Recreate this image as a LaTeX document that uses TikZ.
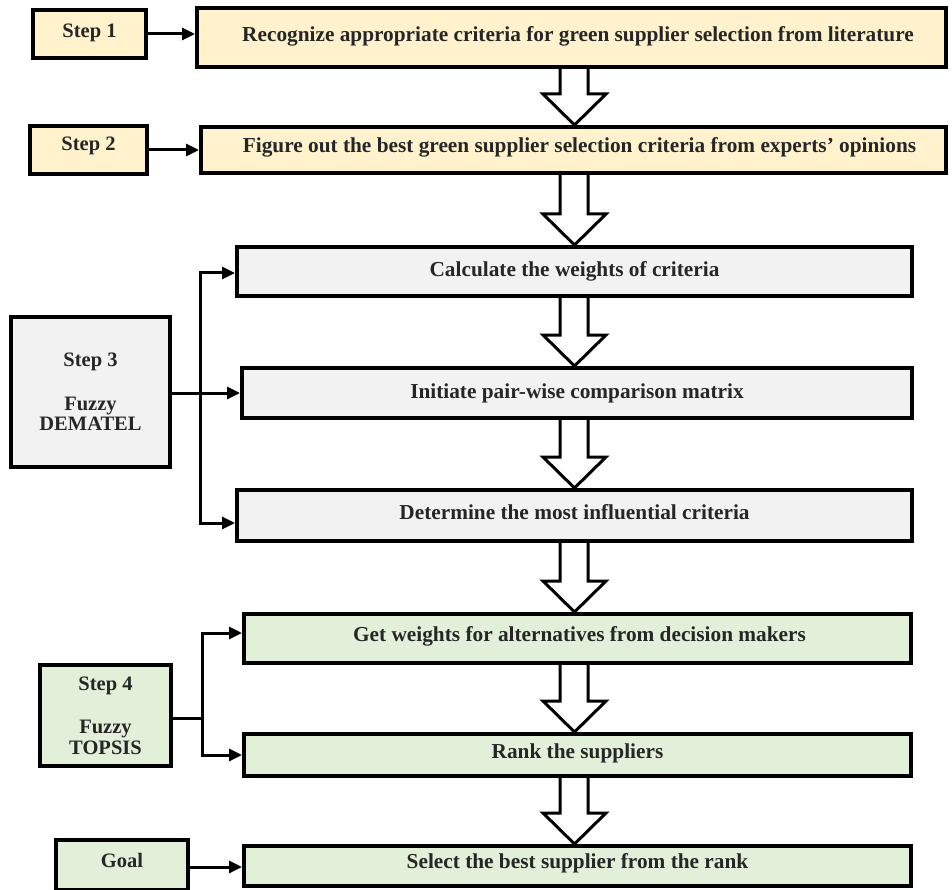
\documentclass[tikz,border=0pt]{standalone}
\usepackage{fontspec}
\setmainfont{Liberation Serif}
\usetikzlibrary{arrows.meta,calc,backgrounds}
\definecolor{yel}{HTML}{FFF2CC}
\definecolor{gry}{HTML}{F2F2F2}
\definecolor{grn}{HTML}{E2EFD9}
\definecolor{txt}{HTML}{262626}
\tikzset{
  box/.style={draw=black, line width=4pt, rectangle, inner sep=0pt, align=center,
    font=\bfseries\fontsize{21.3}{21.3}\selectfont, text=txt},
  sbox/.style={box, font=\bfseries\fontsize{20.5}{20.5}\selectfont},
  conn/.style={line width=3pt, -{Triangle[length=13pt,width=12pt]}},
  plainconn/.style={line width=3pt},
  barrow/.style={draw=black, fill=white, line width=3pt, line join=miter},
}
\newcommand\blockarr[2]{%
  \path[barrow] let \p1=(#1.south), \p2=(#2.north) in
    (560pt,\y1) -- (560pt,\y2+31pt) -- (543pt,\y2+31pt) -- (574.5pt,\y2)
    -- (606pt,\y2+31pt) -- (588pt,\y2+31pt) -- (588pt,\y1);}
\begin{document}
\begin{tikzpicture}[x=1pt,y=-1pt]
\useasboundingbox (0,0) rectangle (952,890);
% top stage
\node[sbox, fill=yel, minimum width=113pt, minimum height=48pt] (s1) at (89.5,34) {\raisebox{6pt}{Step 1}};
\node[box, fill=yel, minimum width=749pt, minimum height=59pt] (b1) at (571.5,37.5) {\hspace*{13pt}\raisebox{7pt}{Recognize appropriate criteria for green supplier selection from literature}};
\node[sbox, fill=yel, minimum width=117pt, minimum height=48pt] (s2) at (88.5,150) {\raisebox{12pt}{Step 2}};
\node[box, fill=yel, minimum width=745pt, minimum height=46pt] (b2) at (573.5,150) {\hspace*{12pt}\raisebox{10pt}{Figure out the best green supplier selection criteria from experts’ opinions}};
% fuzzy DEMATEL
\node[sbox, fill=gry, minimum width=159pt, minimum height=150pt] (s3) at (90.5,392) {\raisebox{11pt}{\parbox{150pt}{\centering Step 3\\[23pt] Fuzzy\\ DEMATEL}}};
\node[box, fill=gry, minimum width=675pt, minimum height=49pt] (b3) at (574.5,271.5) {\raisebox{2pt}{Calculate the weights of criteria}};
\node[box, fill=gry, minimum width=670pt, minimum height=50pt] (b4) at (577,393) {\raisebox{4pt}{Initiate pair-wise comparison matrix}};
\node[box, fill=gry, minimum width=675pt, minimum height=51pt] (b5) at (574.5,515.5) {\raisebox{8pt}{Determine the most influential criteria}};
% fuzzy TOPSIS
\node[sbox, fill=grn, minimum width=131pt, minimum height=101pt] (s4) at (105.5,715.5) {\raisebox{10pt}{\parbox{125pt}{\centering Step 4\\[23pt] Fuzzy\\ TOPSIS}}};
\node[box, fill=grn, minimum width=667pt, minimum height=49pt] (b6) at (577.5,638.5) {\hspace*{4pt}\raisebox{9pt}{Get weights for alternatives from decision makers}};
\node[box, fill=grn, minimum width=667pt, minimum height=42pt] (b7) at (577.5,755) {\raisebox{7pt}{Rank the suppliers}};
% goal
\node[sbox, fill=grn, minimum width=132pt, minimum height=50pt] (g) at (122,865) {\raisebox{9pt}{Goal}};
\node[box, fill=grn, minimum width=667pt, minimum height=40pt] (b8) at (577.5,866) {\raisebox{10pt}{Select the best supplier from the rank}};
% block arrows
\begin{scope}[on background layer]
\blockarr{b1}{b2}
\blockarr{b2}{b3}
\blockarr{b3}{b4}
\blockarr{b4}{b5}
\blockarr{b5}{b6}
\blockarr{b6}{b7}
\blockarr{b7}{b8}
\end{scope}
% connectors
\draw[conn] (s1.east) -- (s1.east -| b1.west);
\draw[conn] (s2.east) -- (s2.east -| b2.west);
\draw[conn] (g.east |- 0,867) -- (b8.west |- 0,867);
% step 3 branches
\coordinate (j3) at (200,393);
\coordinate (j3t) at (200,273);
\coordinate (j3b) at (200,523);
\draw[plainconn] (s3.east |- j3) -- (j3);
\draw[conn] (j3) -- (j3 -| b4.west);
\draw[conn, line join=miter] (j3) -- (j3t) -- (j3t -| b3.west);
\draw[conn, line join=miter] (j3) -- (j3b) -- (j3b -| b5.west);
% step 4 branches
\coordinate (j4) at (202,718);
\coordinate (j4t) at (202,633);
\coordinate (j4b) at (202,755);
\draw[plainconn] (s4.east |- j4) -- (j4);
\draw[conn, line join=miter] (j4) -- (j4t) -- (j4t -| b6.west);
\draw[conn, line join=miter] (j4) -- (j4b) -- (j4b -| b7.west);
\end{tikzpicture}
\end{document}
